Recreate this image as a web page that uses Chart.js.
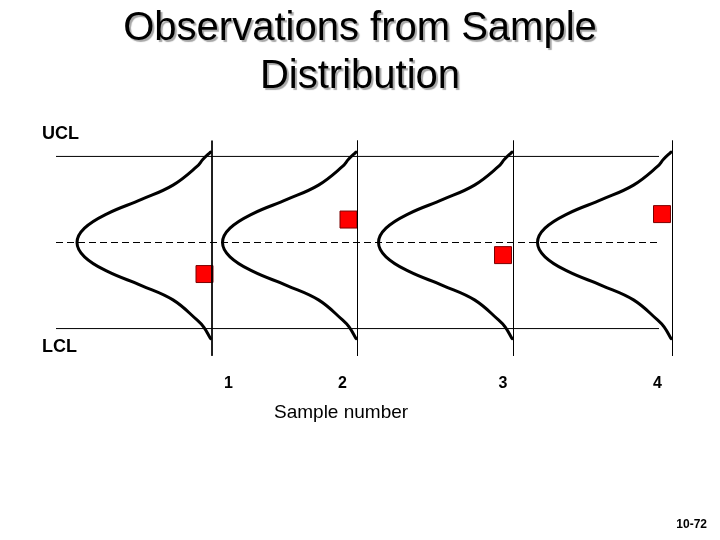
<!DOCTYPE html>
<html>
<head>
<meta charset="utf-8">
<script src="https://cdn.jsdelivr.net/npm/chart.js@4/dist/chart.umd.min.js"></script>
<style>
  html, body { margin: 0; padding: 0; background: #fff; }
  #wrap { width: 720px; height: 540px; }
</style>
</head>
<body>
<div id="wrap"><canvas id="spcChart"></canvas></div>
<script>
// Dati
const sampleLabels = ['1', '2', '3', '4'];
const sampleLineX = [1.0, 1.97, 3.01, 4.07];      // linee verticali dei campioni
const sampleLabelX = [1.11, 1.87, 2.94, 3.97];    // posizione delle etichette 1..4
const obsX = [0.95, 1.91, 2.94, 4.0];             // osservazioni (quadrati rossi)
const obsY = [-1.1, 0.8, -0.44, 0.99];
const limitNames = ['UCL', 'LCL'];
const limitValues = [3, -3];
const centerValue = 0;
const limitSpanX = [-0.04, 3.98];
const sampleLineY = [3.55, -3.95];

// Forma della distribuzione (profondita' a sinistra della linea del campione)
const curveLevels = [3.15, 2.9, 2.65, 2.0, 1.5, 1.0, 0.5, 0, -0.5, -1.0, -1.5, -2.0, -2.7, -2.95, -3.35];
const curveDepth = [0.01, 0.06, 0.10, 0.26, 0.47, 0.70, 0.85, 0.90, 0.85, 0.70, 0.47, 0.26, 0.10, 0.055, 0.01];

const FONT = "'Liberation Sans', Arial, Helvetica, sans-serif";

const lineStyle = { showLine: true, pointRadius: 0, borderColor: '#000', borderWidth: 1, fill: false, clip: false };

const datasets = [];

// Limiti di controllo
limitValues.forEach(v => {
    datasets.push(Object.assign({
        data: [{ x: limitSpanX[0], y: v }, { x: limitSpanX[1], y: v }],
    }, lineStyle));
});

// Linea centrale tratteggiata
datasets.push(Object.assign({
    data: [{ x: limitSpanX[0], y: centerValue }, { x: limitSpanX[1], y: centerValue }],
}, lineStyle, { borderDash: [7, 4] }));

// Linee verticali dei campioni
sampleLineX.forEach(x => {
    datasets.push(Object.assign({
        data: [{ x: x, y: sampleLineY[0] }, { x: x, y: sampleLineY[1] }],
    }, lineStyle));
});

// Curve di distribuzione
sampleLineX.forEach(x => {
    datasets.push(Object.assign({}, lineStyle, {
        data: curveLevels.map((y, i) => ({ x: x - curveDepth[i], y: y })),
        borderWidth: 3,
        tension: 0.4,
        borderCapStyle: 'round',
        borderJoinStyle: 'round',
    }));
});

// Osservazioni
datasets.push({
    data: obsX.map((x, i) => ({ x: x, y: obsY[i] })),
    showLine: false,
    pointStyle: 'rect',
    pointRadius: 12,
    pointBackgroundColor: '#ff0000',
    pointBorderColor: '#7a0000',
    pointBorderWidth: 1,
    clip: false,
});

// Testi: titolo, UCL/LCL, numeri dei campioni, etichetta asse, numero pagina
const textPlugin = {
    id: 'slideText',
    afterDraw(chart) {
        const c = chart.ctx;
        const xs = chart.scales.x;
        const ys = chart.scales.y;
        c.save();

        // titolo con ombra
        c.font = '40px ' + FONT;
        c.textAlign = 'center';
        c.textBaseline = 'alphabetic';
        c.shadowColor = 'rgba(0,0,0,0.35)';
        c.shadowOffsetX = 2;
        c.shadowOffsetY = 2;
        c.shadowBlur = 1;
        c.fillStyle = '#000';
        c.fillText('Observations from Sample', chart.width / 2, 40);
        c.fillText('Distribution', chart.width / 2, 88);
        c.shadowColor = 'transparent';

        // UCL / LCL
        c.font = 'bold 18px ' + FONT;
        c.textAlign = 'left';
        c.fillText(limitNames[0], 42, ys.getPixelForValue(limitValues[0]) - 17);
        c.fillText(limitNames[1], 42, ys.getPixelForValue(limitValues[1]) + 23);

        // numeri dei campioni
        c.font = 'bold 16px ' + FONT;
        c.textAlign = 'center';
        sampleLabels.forEach((lab, i) => {
            c.fillText(lab, xs.getPixelForValue(sampleLabelX[i]), 388);
        });

        // titolo asse
        c.font = '19px ' + FONT;
        c.textAlign = 'left';
        c.fillText('Sample number', 274, 418);

        // numero pagina
        c.font = 'bold 12px ' + FONT;
        c.textAlign = 'right';
        c.fillText('10-72', 707, 528);

        c.restore();
    }
};

const ctx = document.getElementById('spcChart').getContext('2d');
const spcChart = new Chart(ctx, {
    type: 'scatter',
    data: { datasets: datasets },
    options: {
        responsive: true,
        maintainAspectRatio: false,
        animation: false,
        layout: { padding: { left: 32, right: 13, top: 122, bottom: 177 } },
        plugins: {
            legend: { display: false },
            tooltip: { enabled: false },
        },
        scales: {
            x: { type: 'linear', min: -0.2, max: 4.3, display: false },
            y: { type: 'linear', min: -4.2, max: 4.2, display: false },
        },
    },
    plugins: [textPlugin],
});
</script>
</body>
</html>
